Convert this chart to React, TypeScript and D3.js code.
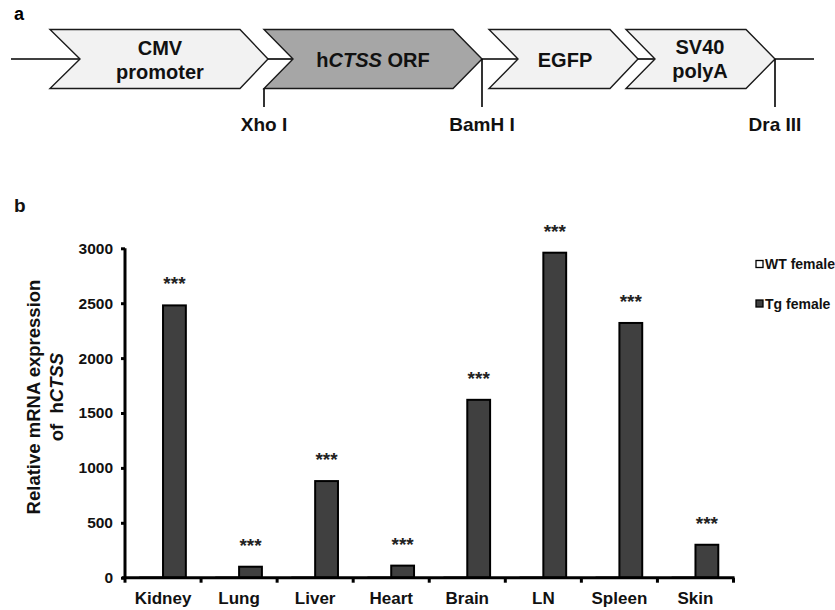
import { useRef, useEffect } from "react";
import * as d3 from "d3";

// tissues on the x axis
const tissues = ["Kidney", "Lung", "Liver", "Heart", "Brain", "LN", "Spleen", "Skin"];
const seriesNames = ["WT female", "Tg female"];
// relative mRNA expression of hCTSS
const wtFemale = [1, 1, 1, 1, 1, 1, 1, 1];
const tgFemale = [2480, 100, 880, 110, 1620, 2960, 2320, 300];
const significance = ["***", "***", "***", "***", "***", "***", "***", "***"];
const yTicks = [0, 500, 1000, 1500, 2000, 2500, 3000];

// construct schematic (panel a)
const parts = [
  { lines: ["CMV", "promoter"], fill: "#f2f2f2" },
  { lines: ["hCTSS ORF"], fill: "#a6a6a6" },
  { lines: ["EGFP"], fill: "#f2f2f2" },
  { lines: ["SV40", "polyA"], fill: "#f2f2f2" },
];
const sites = ["Xho I", "BamH I", "Dra III"];

const FONT = "'Liberation Sans', Arial, sans-serif";

export default function App() {
  const svgRef = useRef<SVGSVGElement>(null);

  useEffect(() => {
    const svg = d3.select(svgRef.current);
    svg.selectAll("*").remove();

    // ---------- panel a ----------
    const a = svg.append("g").attr("font-family", FONT).attr("font-weight", "bold");
    a.append("text").attr("x", 14).attr("y", 20).attr("font-size", 18).text("a");

    const top = 29.5, bottom = 88.5, mid = 59;
    // left edge, body right edge, notch / tip depth
    const geom = [
      { l: 50, r: 240, notch: 30, tip: 28 },
      { l: 264, r: 453, notch: 29, tip: 29 },
      { l: 489, r: 610, notch: 29, tip: 28 },
      { l: 626, r: 746, notch: 29, tip: 29 },
    ];
    const textPos = [
      { x: 160, ys: [55, 79] },
      { x: 373, ys: [67] },
      { x: 565, ys: [67] },
      { x: 700, ys: [54, 78] },
    ];

    // backbone line segments
    const segs: [number, number][] = [[11, geom[0].l + geom[0].notch]];
    for (let i = 0; i < geom.length - 1; i++) {
      segs.push([geom[i].r + geom[i].tip, geom[i + 1].l + geom[i + 1].notch]);
    }
    segs.push([geom[3].r + geom[3].tip, 814]);
    segs.forEach(([x1, x2]) => {
      a.append("line").attr("x1", x1).attr("x2", x2).attr("y1", mid).attr("y2", mid)
        .attr("stroke", "#000").attr("stroke-width", 1.6);
    });

    parts.forEach((p, i) => {
      const g = geom[i];
      const pts = [
        [g.l, top], [g.r, top], [g.r + g.tip, mid], [g.r, bottom], [g.l, bottom], [g.l + g.notch, mid],
      ];
      a.append("polygon")
        .attr("points", pts.map((d) => d.join(",")).join(" "))
        .attr("fill", p.fill)
        .attr("stroke", "#1a1a1a")
        .attr("stroke-width", 1.4);

      const tp = textPos[i];
      p.lines.forEach((ln, j) => {
        const t = a.append("text").attr("x", tp.x).attr("y", tp.ys[j])
          .attr("text-anchor", "middle").attr("font-size", 20).attr("fill", "#111");
        if (ln.startsWith("hCTSS")) {
          t.append("tspan").text("h");
          t.append("tspan").attr("font-style", "italic").text("CTSS");
          t.append("tspan").text(" ORF");
        } else {
          t.text(ln);
        }
      });
    });

    // restriction sites
    const siteX = [geom[1].l, geom[1].r + geom[1].tip, geom[3].r + geom[3].tip];
    const siteY0 = [bottom, mid, mid];
    sites.forEach((s, i) => {
      a.append("line").attr("x1", siteX[i]).attr("x2", siteX[i]).attr("y1", siteY0[i]).attr("y2", 107)
        .attr("stroke", "#000").attr("stroke-width", 1.6);
      a.append("text").attr("x", siteX[i]).attr("y", 131).attr("text-anchor", "middle")
        .attr("font-size", 19).attr("fill", "#111").text(s);
    });

    // ---------- panel b ----------
    const b = svg.append("g").attr("font-family", FONT).attr("font-weight", "bold").attr("fill", "#111");
    b.append("text").attr("x", 14).attr("y", 212).attr("font-size", 19).text("b");

    const x0 = 125, x1 = 733.5;
    const y = d3.scaleLinear().domain([0, 3000]).range([577.7, 248.3]);
    const xBand = d3.scaleBand<string>().domain(tissues).range([x0, x1]).paddingInner(0.4).paddingOuter(0.2);
    const xSub = d3.scaleBand<string>().domain(seriesNames).range([0, xBand.bandwidth()]);

    const values = [wtFemale, tgFemale];
    const fills = ["#ffffff", "#404040"];

    // bars
    seriesNames.forEach((s, si) => {
      b.append("g").selectAll("rect")
        .data(tissues)
        .enter()
        .append("rect")
        .attr("x", (d) => xBand(d)! + xSub(s)!)
        .attr("width", xSub.bandwidth())
        .attr("y", (d, i) => y(values[si][i]))
        .attr("height", (d, i) => y(0) - y(values[si][i]))
        .attr("fill", fills[si])
        .attr("stroke", "#000")
        .attr("stroke-width", 2);
    });

    // significance stars
    b.append("g").selectAll("text")
      .data(tissues)
      .enter()
      .append("text")
      .attr("x", (d) => xBand(d)! + xSub("Tg female")! + xSub.bandwidth() / 2)
      .attr("y", (d, i) => y(tgFemale[i]) - 15)
      .attr("text-anchor", "middle")
      .attr("font-size", 19)
      .attr("fill", "#222")
      .text((d, i) => significance[i]);

    // y axis
    const yAxis = d3.axisLeft(y).tickValues(yTicks).tickFormat(d3.format("d")).tickSize(4).tickPadding(8);
    const yg = b.append("g").attr("transform", `translate(${x0},0)`).call(yAxis);
    yg.select(".domain").attr("stroke", "#000").attr("stroke-width", 3).attr("d", `M0,${y(3000)}V${y(0)}`);
    yg.selectAll(".tick line").attr("stroke", "#000").attr("stroke-width", 3);
    yg.selectAll(".tick text")
      .attr("font-size", 15.5).attr("font-family", FONT).attr("font-weight", "bold").attr("fill", "#111");

    // x axis: boundaries between tissues carry the ticks
    const step = xBand.step();
    const bounds = d3.range(tissues.length + 1).map((i) => x0 + i * step);
    b.append("line").attr("x1", x0 - 3).attr("x2", x1 + 1).attr("y1", y(0)).attr("y2", y(0))
      .attr("stroke", "#000").attr("stroke-width", 3);
    b.append("g").selectAll("line")
      .data(bounds)
      .enter()
      .append("line")
      .attr("x1", (d) => d).attr("x2", (d) => d)
      .attr("y1", y(0)).attr("y2", y(0) + 5)
      .attr("stroke", "#000").attr("stroke-width", 3);
    b.append("g").selectAll("text")
      .data(tissues)
      .enter()
      .append("text")
      .attr("x", (d) => xBand(d)! + xBand.bandwidth() / 2)
      .attr("y", 604)
      .attr("text-anchor", "middle")
      .attr("font-size", 17)
      .text((d) => d);

    // y axis title
    const title = b.append("text")
      .attr("transform", "translate(40,397) rotate(-90)")
      .attr("text-anchor", "middle")
      .attr("font-size", 18.5);
    title.append("tspan").attr("x", 0).attr("y", 0).text("Relative mRNA expression");
    const l2 = title.append("tspan").attr("x", 0).attr("y", 23);
    l2.append("tspan").text("of  h");
    l2.append("tspan").attr("font-style", "italic").text("CTSS");
    title.attr("xml:space", "preserve");

    // legend
    const legendY = [264, 303.5];
    seriesNames.forEach((s, i) => {
      b.append("rect")
        .attr("x", 756).attr("y", legendY[i] - 3.5).attr("width", 7).attr("height", 7)
        .attr("fill", fills[i]).attr("stroke", "#000").attr("stroke-width", 1.3);
      b.append("text").attr("x", 765).attr("y", legendY[i] + 5)
        .attr("font-size", 14).text(s);
    });
  }, []);

  return (
    <svg
      ref={svgRef}
      width={835}
      height={610}
      style={{ position: "absolute", left: 0, top: 0, background: "#fff" }}
    />
  );
}
